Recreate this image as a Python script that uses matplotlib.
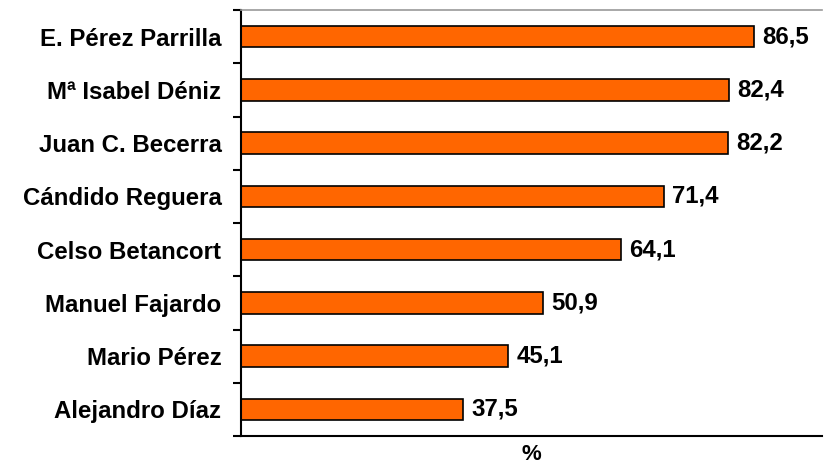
import matplotlib
matplotlib.use("Agg")
import matplotlib.pyplot as plt
from matplotlib.ticker import FixedLocator, NullFormatter

# datos
nombres = ["Alejandro Díaz", "Mario Pérez", "Manuel Fajardo", "Celso Betancort",
           "Cándido Reguera", "Juan C. Becerra", "Mª Isabel Déniz", "E. Pérez Parrilla"]
valores = [37.5, 45.1, 50.9, 64.1, 71.4, 82.2, 82.4, 86.5]

NARANJA = "#FF6600"
FS = 17.3

plt.rcParams["font.family"] = ["Liberation Sans", "DejaVu Sans"]

fig = plt.figure(figsize=(8.25, 4.7), dpi=100)
ax = fig.add_axes([0.292, 0.0723, 0.704, 0.9064])

pos = list(range(len(nombres)))
bars = ax.barh(pos, valores, height=0.4, color=NARANJA, edgecolor="black", linewidth=1.2)

for b, v in zip(bars, valores):
    ax.annotate(f"{v:.1f}".replace(".", ","), (b.get_width(), b.get_y() + b.get_height() / 2),
                xytext=(6, 0), textcoords="offset points", va="center", ha="left",
                fontsize=FS, fontweight="bold")

ax.set_xlim(0, 98)
ax.set_ylim(-0.5, len(nombres) - 0.5)

ax.set_yticks(pos)
ax.set_yticklabels(nombres, fontsize=FS, fontweight="bold")
ax.tick_params(axis="y", which="major", length=0, pad=14)
ax.yaxis.set_minor_locator(FixedLocator([p - 0.5 for p in range(len(nombres) + 1)]))
ax.yaxis.set_minor_formatter(NullFormatter())
ax.tick_params(axis="y", which="minor", length=6, width=1.5, direction="out")
ax.set_xticks([])

ax.spines["left"].set_linewidth(1.5)
ax.spines["bottom"].set_linewidth(1.5)
ax.spines["top"].set_color("#999999")
ax.spines["top"].set_linewidth(1.2)
ax.spines["right"].set_visible(False)

ax.set_xlabel("%", fontsize=16, fontweight="bold", labelpad=6)

fig.savefig("out.png", dpi=100)
